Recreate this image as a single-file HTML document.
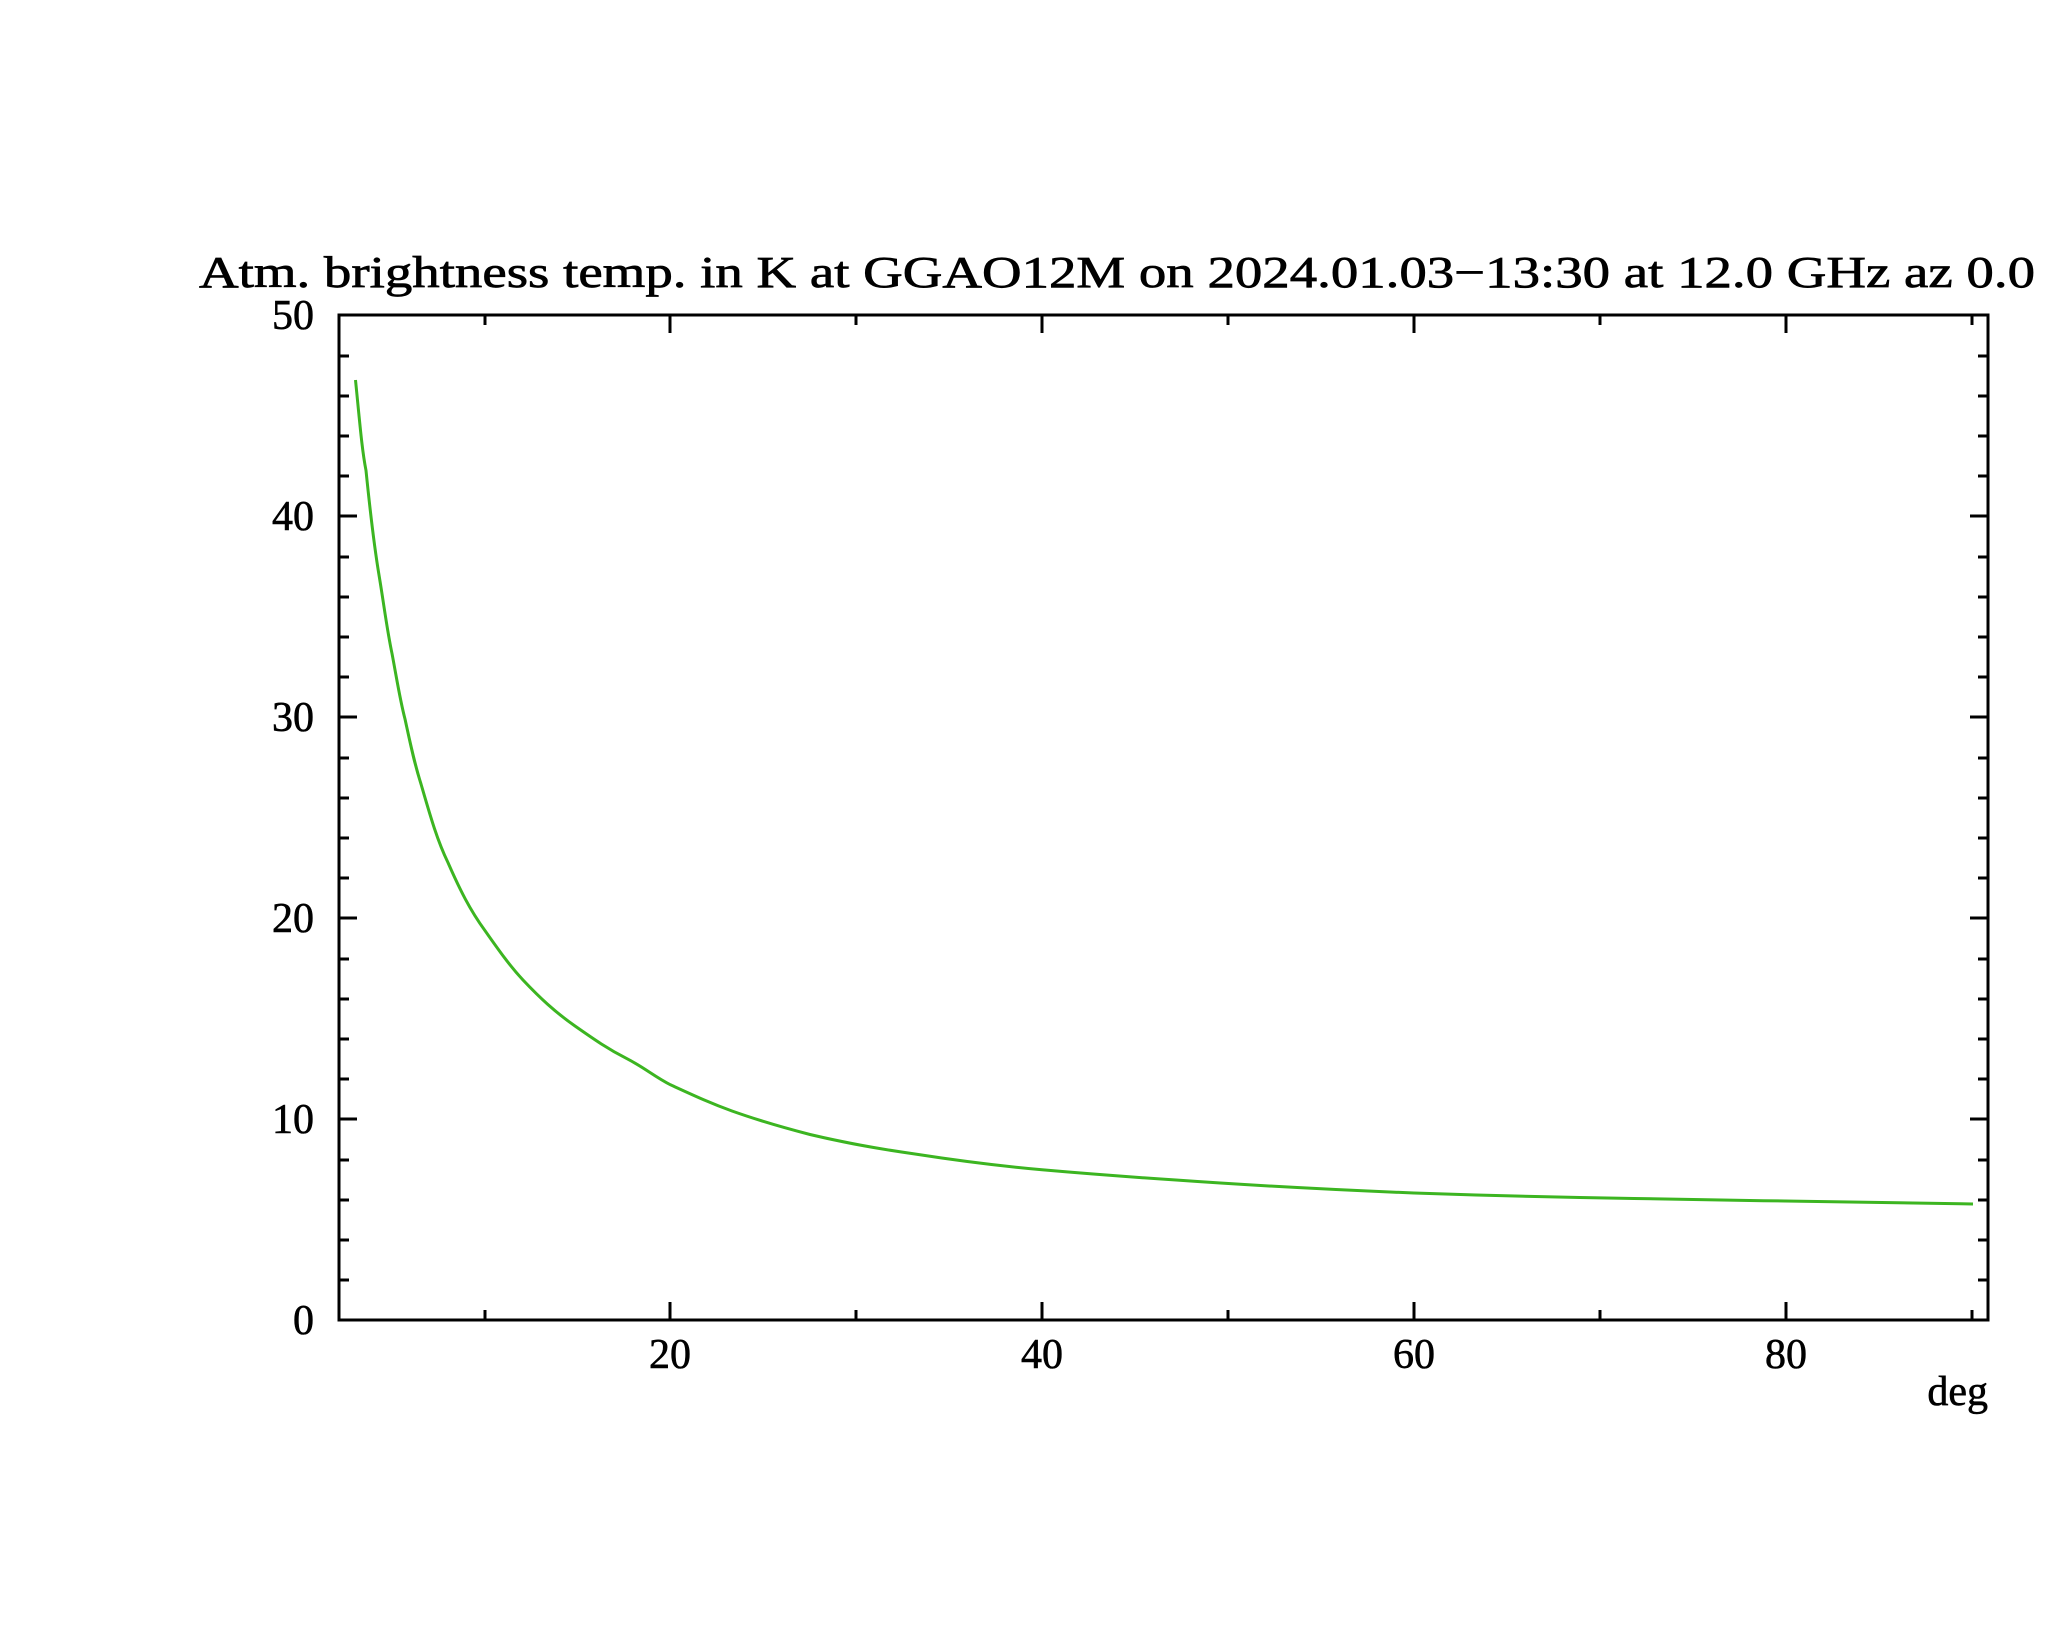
<!DOCTYPE html>
<html><head><meta charset="utf-8"><style>html,body{margin:0;padding:0;background:#fff}svg{display:block}</style></head>
<body>
<svg width="2048" height="1635" viewBox="0 0 2048 1635" xmlns="http://www.w3.org/2000/svg">
<rect width="2048" height="1635" fill="#fff"/>
<text x="199" y="287" font-family="Liberation Serif, serif" font-size="44" stroke="#000" stroke-width="0.7" textLength="1836" lengthAdjust="spacingAndGlyphs" fill="#000">Atm. brightness temp. in K at GGAO12M  on 2024.01.03−13:30 at  12.0 GHz az   0.0</text>
<g stroke="#000" stroke-width="3" fill="none">
<rect x="339" y="315" width="1649" height="1005"/>
<path d="
M339 1320h18M339 1119h18M339 918h18M339 717h18M339 516h18
M1988 1320h-18M1988 1119h-18M1988 918h-18M1988 717h-18M1988 516h-18
M339 1280h10M339 1240h10M339 1200h10M339 1160h10M339 1079h10M339 1039h10M339 999h10M339 959h10M339 878h10M339 838h10M339 798h10M339 758h10M339 677h10M339 637h10M339 597h10M339 557h10M339 476h10M339 436h10M339 396h10M339 356h10
M1988 1280h-10M1988 1240h-10M1988 1200h-10M1988 1160h-10M1988 1079h-10M1988 1039h-10M1988 999h-10M1988 959h-10M1988 878h-10M1988 838h-10M1988 798h-10M1988 758h-10M1988 677h-10M1988 637h-10M1988 597h-10M1988 557h-10M1988 476h-10M1988 436h-10M1988 396h-10M1988 356h-10
M670 1320v-18M1042 1320v-18M1414 1320v-18M1786 1320v-18
M670 315v18M1042 315v18M1414 315v18M1786 315v18
M485 1320v-10M856 1320v-10M1228 1320v-10M1600 1320v-10M1972 1320v-10
M485 315v10M856 315v10M1228 315v10M1600 315v10M1972 315v10"/>
</g>
<path d="M355.5 380 C360 425 362 450 366 470.5 C370 510 374 545 379 575 C384 605 387 630 392 653.5 C397 680 400 700 405 719 C410 742 414 762 421 784 C430 815 437 840 448 862.6 C460 890 470 910 485 930.6 C500 952 510 966 523 980 C540 998 555 1012 575 1026 C595 1040 608 1049 627 1058.7 C645 1068 655 1077 670.5 1084.8 C695 1096 710 1103 732 1111 C760 1121 785 1128 810 1134.5 C850 1144 880 1149 915 1154 C960 1161 1000 1166 1042 1169.8 C1090 1174 1130 1177 1176 1180 C1260 1186 1340 1190 1414 1193 C1500 1196 1570 1197.5 1634 1198.5 C1700 1199.5 1740 1200.5 1785 1201 C1870 1202 1920 1203 1973 1204"
 fill="none" stroke="#3cb521" stroke-width="3" stroke-linejoin="round"/>
<g font-family="Liberation Serif, serif" font-size="42" fill="#000" stroke="#000" stroke-width="0.6">
<g text-anchor="end">
<text x="314" y="329">50</text>
<text x="314" y="530">40</text>
<text x="314" y="731">30</text>
<text x="314" y="932">20</text>
<text x="314" y="1133">10</text>
<text x="314" y="1334">0</text>
</g>
<g text-anchor="middle">
<text x="670" y="1368">20</text>
<text x="1042" y="1368">40</text>
<text x="1414" y="1368">60</text>
<text x="1786" y="1368">80</text>
</g>
<text x="1988" y="1405" text-anchor="end">deg</text>
</g>
</svg>
</body></html>
